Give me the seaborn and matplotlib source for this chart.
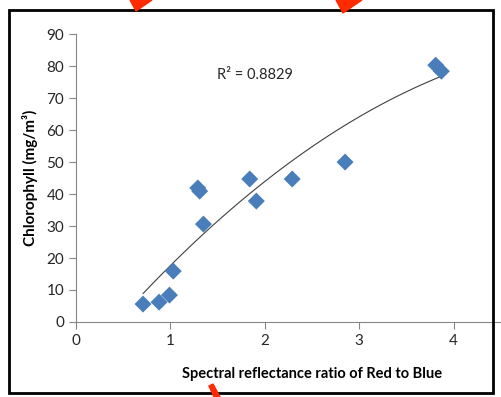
import numpy as np
import pandas as pd
import matplotlib
matplotlib.use("Agg")
import matplotlib.pyplot as plt
import seaborn as sns
from matplotlib.patches import Rectangle, Polygon

sns.set_style("white")
plt.rcParams['font.family'] = ['Lato', 'DejaVu Sans']

# values
ratio = [0.71, 0.88, 0.99, 1.03, 1.29, 1.31, 1.35, 1.84, 1.91, 2.29, 2.85, 3.81, 3.87]
chl = [5.6, 6.2, 8.4, 15.9, 41.9, 40.9, 30.6, 44.7, 37.8, 44.7, 50.0, 80.3, 78.4]
x_ticks = [0, 1, 2, 3, 4]
y_ticks = [0, 10, 20, 30, 40, 50, 60, 70, 80, 90]
r2_label = "R² = 0.8829"

df = pd.DataFrame({"ratio": ratio, "chl": chl})

fig = plt.figure(figsize=(5.01, 3.97), dpi=100)
ax = fig.add_axes([0.1517, 0.189, 0.848, 0.725])

# polynomial trend line (order 2), like the spreadsheet trendline
sns.regplot(data=df, x="ratio", y="chl", order=2, ci=None, scatter=False,
            line_kws={"color": "#404040", "lw": 0.8}, ax=ax)
sns.scatterplot(data=df, x="ratio", y="chl", marker="D", s=75,
                color="#4a7ebb", edgecolor="none", ax=ax, zorder=3)

ax.set_xlim(0, 4.5)
ax.set_ylim(0, 90)
ax.set_xticks(x_ticks)
ax.set_yticks(y_ticks)
ax.tick_params(axis="both", labelsize=11, colors="#868686", labelcolor="#262626",
               length=5, width=0.8, direction="out", bottom=True, left=True)
for side in ["top", "right"]:
    ax.spines[side].set_visible(False)
for side in ["left", "bottom"]:
    ax.spines[side].set_color("#868686")
    ax.spines[side].set_linewidth(0.8)

ax.set_xlabel("Spectral reflectance ratio of Red to Blue", fontsize=10.5,
              fontweight="bold", color="black")
ax.set_ylabel("Chlorophyll (mg/m³)", fontsize=11, fontweight="bold", color="black")
ax.xaxis.set_label_coords(0.555, -0.155)
ax.yaxis.set_label_coords(-0.09, 0.5)

ax.text(0.421, 0.858, r2_label, transform=ax.transAxes, fontsize=10.5,
        ha="center", va="center", color="#262626")

# outer frame
fig.patches.append(Rectangle((9 / 501, 1 - 393 / 397), 484 / 501, 383 / 397,
                             transform=fig.transFigure, fill=False,
                             edgecolor="black", lw=2, zorder=10))

# red arrow heads cut off at the edges
red = "#ff2a00"
for pts in [[(130, 0), (152, 0), (136, 11)],
            [(336, 0), (362, 0), (343, 13)],
            [(209, 386), (213, 384), (220, 397), (214, 397)]]:
    fig.patches.append(Polygon([(px / 501, 1 - py / 397) for px, py in pts],
                               closed=True, transform=fig.transFigure,
                               color=red, zorder=11))

fig.savefig("out.png", dpi=100)
